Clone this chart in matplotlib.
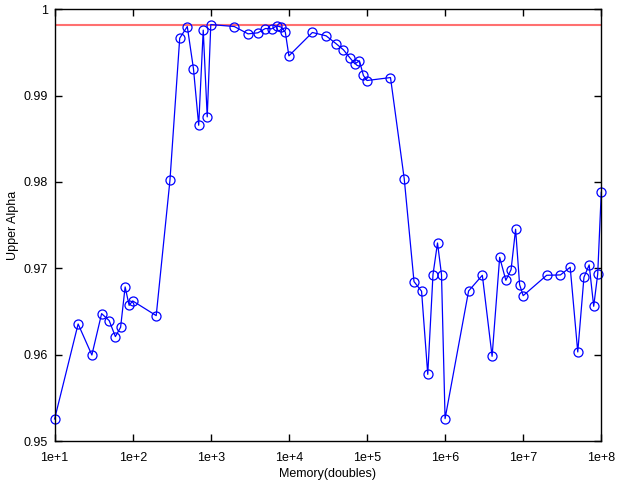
import matplotlib
matplotlib.use("Agg")
import matplotlib.pyplot as plt
import numpy as np

# memory sizes: 1..9 x 10^k, k = 1..7, plus 1e8
memory = [m * 10.0 ** k for k in range(1, 8) for m in range(1, 10)] + [1e8]

upper_alpha = [
    0.95255, 0.96355, 0.95996, 0.96475, 0.96394, 0.96209, 0.96317, 0.96784, 0.96571,
    0.96622, 0.96452, 0.98019, 0.99664, 0.99799, 0.99309, 0.98656, 0.99757, 0.98753,
    0.99822, 0.99799, 0.99714, 0.99726, 0.99776, 0.99772, 0.99807, 0.99792, 0.99734,
    0.99459, 0.99730, 0.99691, 0.99602, 0.99529, 0.99440, 0.99367, 0.99402, 0.99232,
    0.99174, 0.99208, 0.98035, 0.96846, 0.96734, 0.95772, 0.96927, 0.97293, 0.96927,
    0.95259, 0.96737, 0.96919, 0.95981, 0.97127, 0.96861, 0.96985, 0.97452, 0.96811,
    0.96683, 0.96919, 0.96923, 0.97012, 0.96031, 0.96896, 0.97039, 0.96560, 0.96931,
    0.97880,
]

reference_level = 0.99815

xticks = [1e1, 1e2, 1e3, 1e4, 1e5, 1e6, 1e7, 1e8]
xtick_labels = ["1e+1", "1e+2", "1e+3", "1e+4", "1e+5", "1e+6", "1e+7", "1e+8"]
yticks = [0.95, 0.96, 0.97, 0.98, 0.99, 1.0]
ytick_labels = ["0.95", "0.96", "0.97", "0.98", "0.99", "1"]

plt.rcParams['font.family'] = ['Liberation Sans', 'DejaVu Sans']

fig = plt.figure(figsize=(6.17, 4.82), dpi=100)
ax = fig.add_axes([0.0885, 0.085, 0.886, 0.896])

ax.axhline(reference_level, color='#ff7070', linewidth=1.5, zorder=1)
ax.plot(memory, upper_alpha, color='#0000ff', linewidth=0.9, marker='o',
        markersize=6.5, markerfacecolor='none', markeredgecolor='#0000ff',
        markeredgewidth=0.9, zorder=2, clip_on=False)

ax.set_xscale('log')
ax.set_xlim(1e1, 1e8)
ax.set_ylim(0.95, 1.0)
ax.set_xticks(xticks)
ax.set_xticklabels(xtick_labels)
ax.set_yticks(yticks)
ax.set_yticklabels(ytick_labels)
ax.minorticks_off()
ax.tick_params(direction='in', top=True, right=True, length=5, width=1,
               labelsize=9)
ax.tick_params(axis='x', pad=8)
ax.tick_params(axis='y', pad=5)

ax.set_xlabel('Memory(doubles)', fontsize=9, labelpad=2.5)
ax.set_ylabel('Upper Alpha', fontsize=9, labelpad=3)

for s in ax.spines.values():
    s.set_linewidth(1.0)

fig.savefig("out.png", dpi=100)
